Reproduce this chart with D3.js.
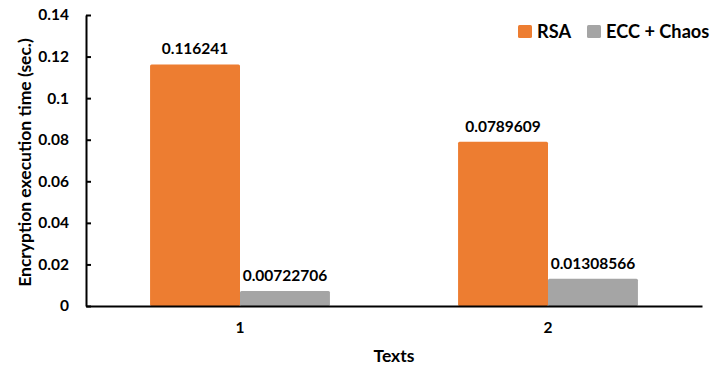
<!DOCTYPE html>
<html>
<head>
<meta charset="utf-8">
<script src="https://cdn.jsdelivr.net/npm/d3@7"></script>
<style>
  html, body { margin: 0; padding: 0; background: #fff; }
  svg { display: block; font-family: Lato, "Open Sans", sans-serif; font-weight: bold; }
</style>
</head>
<body>
<svg id="chart" width="712" height="367"></svg>
<script>
const categories = ["1", "2"];
const seriesNames = ["RSA", "ECC + Chaos"];
const rsaValues = [0.116241, 0.0789609];
const eccChaosValues = [0.00722706, 0.01308566];
const valueLabels = [["0.116241", "0.00722706"], ["0.0789609", "0.01308566"]];
const yTicks = [0, 0.02, 0.04, 0.06, 0.08, 0.1, 0.12, 0.14];
const colors = ["#ED7D31", "#A5A5A5"];

const FONT = "Lato, 'Open Sans', sans-serif";
const svg = d3.select("#chart");
const margin = { left: 86, right: 10, top: 15, bottom: 61 };
const W = 712, H = 367;
const plotRight = W - margin.right;
const plotBottom = H - margin.bottom;

const x = d3.scaleBand().domain(categories).range([margin.left, plotRight]).paddingInner(0.416).paddingOuter(0.208);
const xSub = d3.scaleBand().domain(seriesNames).range([0, x.bandwidth()]);
const y = d3.scaleLinear().domain([0, 0.14]).range([plotBottom, margin.top]);

const rows = categories.map((c, i) => ({
  cat: c,
  vals: [
    { name: seriesNames[0], v: rsaValues[i], label: valueLabels[i][0], color: colors[0] },
    { name: seriesNames[1], v: eccChaosValues[i], label: valueLabels[i][1], color: colors[1] }
  ]
}));

// bars
const groups = svg.append("g").selectAll("g").data(rows).join("g")
  .attr("transform", d => `translate(${x(d.cat)},0)`);
groups.selectAll("rect").data(d => d.vals).join("rect")
  .attr("x", d => xSub(d.name))
  .attr("y", d => y(d.v))
  .attr("width", xSub.bandwidth())
  .attr("height", d => y(0) - y(d.v))
  .attr("rx", 1.5)
  .attr("fill", d => d.color);

// value labels
groups.selectAll("text").data(d => d.vals).join("text")
  .attr("x", d => xSub(d.name) + xSub.bandwidth() / 2)
  .attr("y", d => y(d.v) - 10)
  .attr("text-anchor", "middle")
  .attr("font-size", 15.5)
  .attr("fill", "#000")
  .text(d => d.label);

// y axis
const yAxis = svg.append("g").attr("transform", `translate(${margin.left},0)`)
  .call(d3.axisLeft(y).tickValues(yTicks).tickSizeInner(-5).tickSizeOuter(0).tickPadding(17)
    .tickFormat(d => d3.format("")(+d.toFixed(2))));
yAxis.select(".domain").attr("stroke", "#000").attr("stroke-width", 2);
yAxis.selectAll(".tick line").attr("stroke", "#000").attr("stroke-width", 2);
yAxis.selectAll(".tick text").attr("font-size", 15.5).attr("fill", "#000")
  .style("font-family", FONT).style("font-weight", "bold");

// x axis
const xAxis = svg.append("g").attr("transform", `translate(0,${plotBottom})`)
  .call(d3.axisBottom(x).tickSize(0).tickPadding(16));
xAxis.select(".domain").attr("stroke", "#000").attr("stroke-width", 2);
xAxis.selectAll(".tick text").attr("font-size", 15.5).attr("fill", "#000")
  .style("font-family", FONT).style("font-weight", "bold");

// axis titles
svg.append("text")
  .attr("x", (margin.left + plotRight) / 2).attr("y", 362)
  .attr("text-anchor", "middle").attr("font-size", 17.5).attr("fill", "#000")
  .text("Texts");
svg.append("text")
  .attr("transform", `translate(31,${(margin.top + plotBottom) / 2 + 2}) rotate(-90)`)
  .attr("text-anchor", "middle").attr("font-size", 17.5).attr("fill", "#000")
  .text("Encryption execution time (sec.)");

// legend
const legend = svg.append("g");
const legendItems = [
  { name: seriesNames[0], color: colors[0], x: 518 },
  { name: seriesNames[1], color: colors[1], x: 587 }
];
legendItems.forEach(it => {
  legend.append("rect").attr("x", it.x).attr("y", 25).attr("width", 14).attr("height", 13)
    .attr("rx", 1.5).attr("fill", it.color);
  legend.append("text").attr("x", it.x + 19).attr("y", 38)
    .attr("font-size", 18.2).attr("fill", "#000").text(it.name);
});
</script>
</body>
</html>
